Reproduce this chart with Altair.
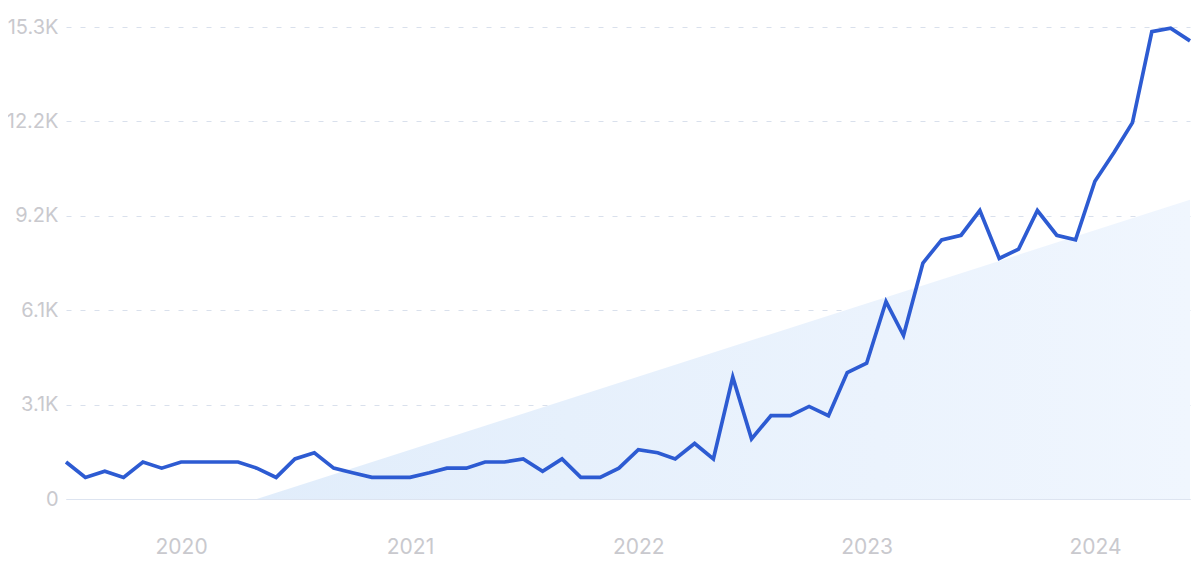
import altair as alt
import pandas as pd

months = pd.date_range("2019-07-01", "2024-06-01", freq="MS").strftime("%Y-%m-%d").tolist()
values = [
    1200, 700, 900, 700, 1200, 1000,            # 2019 Jul-Dec
    1200, 1200, 1200, 1200, 1000, 700, 1300, 1500, 1000, 850, 700, 700,   # 2020
    700, 850, 1000, 1000, 1200, 1200, 1300, 900, 1300, 700, 700, 1000,    # 2021
    1600, 1500, 1300, 1800, 1300, 3950, 1950, 2700, 2700, 3000, 2700, 4100,  # 2022
    4400, 6400, 5300, 7650, 8400, 8550, 9350, 7800, 8100, 9350, 8550, 8400,  # 2023
    10300, 11250, 12200, 15150, 15260, 14850,  # 2024 Jan-Jun
]
trend_dates = ["2020-05-01", "2024-06-01"]
trend_values = [0, 9700]
y_ticks = [0, 3060, 6120, 9180, 12240, 15300]
year_ticks = [2020, 2021, 2022, 2023, 2024]

df = pd.DataFrame({"date": months, "value": values})
tdf = pd.DataFrame({"date": trend_dates, "value": trend_values})

x_scale = alt.Scale(type="utc", domain=[alt.DateTime(year=2019, month=7, date=1, utc=True),
                                        alt.DateTime(year=2024, month=6, date=1, utc=True)])
y_scale = alt.Scale(domain=[0, 15300], nice=False)

x_axis = alt.Axis(
    values=[alt.DateTime(year=y, month=1, date=1, utc=True) for y in year_ticks],
    labelExpr="utcFormat(datum.value, '%Y')",
    title=None, ticks=False, grid=False, domain=True,
    domainColor="#dde4f0", domainWidth=1.2,
    labelPadding=37, labelFontSize=21, labelColor="#c9c9ce", labelFont="Inter",
)
y_axis = alt.Axis(
    values=y_ticks,
    labelExpr="datum.value == 0 ? '0' : format(datum.value / 1000, '.1f') + 'K'",
    title=None, ticks=False, domain=False,
    grid=True, gridColor="#d9e0ec", gridDash=[5, 9], gridWidth=1,
    labelPadding=8, labelFontSize=20, labelColor="#c9c9ce", labelFont="Inter",
)

area = alt.Chart(tdf).mark_area(
    color=alt.Gradient(
        gradient="linear", x1=0, x2=1, y1=1, y2=1,
        stops=[alt.GradientStop(color="#e1edfb", offset=0),
               alt.GradientStop(color="#f0f6fe", offset=1)],
    )
).encode(
    x=alt.X("date:T", scale=x_scale, axis=x_axis),
    y=alt.Y("value:Q", scale=y_scale, axis=y_axis),
)

line = alt.Chart(df).mark_line(color="#2d5bd2", strokeWidth=3.7, strokeJoin="miter").encode(
    x=alt.X("date:T", scale=x_scale),
    y=alt.Y("value:Q", scale=y_scale),
)

chart = alt.layer(area, line).properties(
    width=1124, height=472,
    autosize=alt.AutoSizeParams(type="none"),
    padding={"left": 58, "top": 19, "right": 2, "bottom": 62},
    background="white",
).configure_view(stroke=None)

chart.save("out.html", embed_options={"renderer": "svg", "actions": False})
